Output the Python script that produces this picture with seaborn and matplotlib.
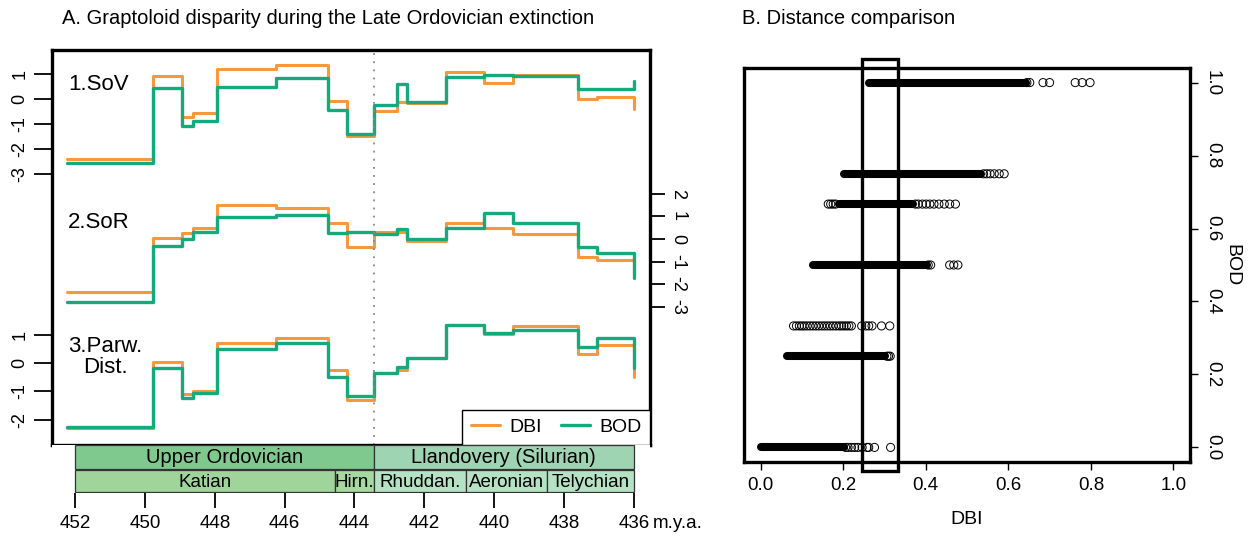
import matplotlib
matplotlib.use("Agg")
import matplotlib.pyplot as plt
import seaborn as sns
from matplotlib.patches import Rectangle
from matplotlib.lines import Line2D

# --- panel A data -------------------------------------------------------
# step positions (m.y.a.), the last one only closes the final step
AGE = [452.24, 449.76, 448.95, 448.62, 447.93, 446.26, 444.75, 444.21, 443.45,
       442.78, 442.51, 441.38, 440.29, 439.46, 437.60, 437.07, 436.0]

SOV_DBI = [-2.41, 0.92, -0.71, -0.55, 1.20, 1.37, -0.07, -1.48, -0.48,
           -0.11, -0.17, 1.09, 0.65, 0.97, 0.00, 0.07, -0.40]
SOV_BOD = [-2.55, 0.45, -1.08, -0.88, 0.49, 0.83, -0.44, -1.41, -0.24,
           0.60, -0.11, 0.89, 0.97, 0.93, 0.39, 0.39, 0.73]
SOR_DBI = [-2.36, 0.06, 0.28, 0.50, 1.50, 1.36, 0.72, -0.34, 0.30,
           0.30, -0.08, 0.69, 0.50, 0.22, -0.78, -0.93, -1.30]
SOR_BOD = [-2.77, -0.30, 0.00, 0.30, 0.96, 1.08, 0.25, 0.30, 0.22,
           0.43, -0.01, 0.50, 1.14, 0.69, -0.34, -0.63, -1.71]
PARW_DBI = [-2.30, 0.03, -1.08, -0.99, 0.70, 0.88, -0.25, -1.29, -0.37,
            -0.25, 0.19, 1.36, 1.01, 1.30, 0.32, 0.62, -0.49]
PARW_BOD = [-2.25, -0.19, -1.23, -1.05, 0.49, 0.70, -0.49, -1.18, -0.35,
            -0.13, 0.19, 1.36, 1.06, 1.15, 0.55, 0.88, -0.17]

SOV_TICKS = [-3, -2, -1, 0, 1]
SOR_TICKS = [2, 1, 0, -1, -2, -3]
PARW_TICKS = [1, 0, -1, -2]

# timescale
SERIES_NAMES = ["Upper Ordovician", "Llandovery (Silurian)"]
SERIES_START = [452.0, 443.45]
SERIES_END = [443.45, 436.0]
STAGE_NAMES = ["Katian", "Hirn.", "Rhuddan.", "Aeronian", "Telychian"]
STAGE_START = [452.0, 444.55, 443.45, 440.8, 438.5]
STAGE_END = [444.55, 443.45, 440.8, 438.5, 436.0]
AGE_TICKS = [452, 450, 448, 446, 444, 442, 440, 438, 436]
BOUNDARY_AGE = 443.45

# --- panel B data -------------------------------------------------------
BAND_BOD = [1.0, 0.75, 0.667, 0.5, 0.25, 0.0]
BAND_LO = [0.262, 0.202, 0.190, 0.128, 0.064, 0.0]
BAND_HI = [0.642, 0.533, 0.370, 0.402, 0.302, 0.202]

ROW_100 = [0.645, 0.652, 0.684, 0.700, 0.762, 0.779, 0.798]
ROW_075 = [0.540, 0.548, 0.556, 0.566, 0.578, 0.590]
ROW_067 = [0.164, 0.170, 0.176, 0.182, 0.375, 0.382, 0.392, 0.401, 0.410,
           0.420, 0.432, 0.445, 0.458, 0.472]
ROW_050 = [0.406, 0.412, 0.458, 0.468, 0.478]
ROW_033 = [0.080, 0.087, 0.094, 0.100, 0.106, 0.113, 0.120, 0.127, 0.134,
           0.141, 0.148, 0.155, 0.162, 0.169, 0.176, 0.183, 0.190, 0.196,
           0.202, 0.208, 0.214, 0.220, 0.245, 0.255, 0.262, 0.270, 0.293, 0.313]
ROW_025 = [0.306, 0.310, 0.314]
ROW_000 = [0.206, 0.212, 0.220, 0.228, 0.236, 0.246, 0.258, 0.262, 0.276, 0.315]

BOX_DBI = (0.245, 0.333)

ORANGE = "#f7983c"
GREEN = "#16a97c"

sns.set_style("white")
plt.rcParams["font.family"] = ["Liberation Sans", "DejaVu Sans"]
plt.rcParams["text.color"] = "black"
plt.rcParams["axes.labelcolor"] = "black"
plt.rcParams["axes.edgecolor"] = "black"
plt.rcParams["xtick.color"] = "black"
plt.rcParams["ytick.color"] = "black"

W, H = 1249, 536
fig = plt.figure(figsize=(W / 100, H / 100), dpi=100)


def px_axes(x0, y0, x1, y1):
    return fig.add_axes([x0 / W, 1 - y1 / H, (x1 - x0) / W, (y1 - y0) / H])


# ---------------- panel A ----------------
XL = (452.66, 435.54)
ax = px_axes(52, 50, 650, 445)
ax.set_xlim(*XL)
ax.set_ylim(445, 50)  # pixel-like vertical units, panels stacked

panels = [
    ("1.SoV", SOV_DBI, SOV_BOD, 99, 25.0),
    ("2.SoR", SOR_DBI, SOR_BOD, 239, 22.6),
    ("3.Parw.\nDist.", PARW_DBI, PARW_BOD, 363, 28.3),
]
for label, dbi, bod, zero, unit in panels:
    sns.lineplot(x=AGE, y=[zero - v * unit for v in dbi], ax=ax, sort=False,
                 estimator=None, drawstyle="steps-post", color=ORANGE, lw=2.2)
    sns.lineplot(x=AGE, y=[zero - v * unit for v in bod], ax=ax, sort=False,
                 estimator=None, drawstyle="steps-post", color=GREEN, lw=2.4)

ax.text(452.2, 84, "1.SoV", fontsize=16, va="center", ha="left")
ax.text(452.2, 223, "2.SoR", fontsize=16, va="center", ha="left")
ax.text(452.2, 357, "3.Parw.\nDist.", fontsize=16, va="center", ha="left",
        multialignment="center", linespacing=1.0)

ax.axvline(BOUNDARY_AGE, color="#888888", lw=1.3, ls=(0, (1, 3.5)))

sov = panels[0]
parw = panels[2]
ax.set_yticks([sov[3] - t * sov[4] for t in SOV_TICKS] +
              [parw[3] - t * parw[4] for t in PARW_TICKS])
ax.set_yticklabels([str(t) for t in SOV_TICKS] + [str(t) for t in PARW_TICKS])
ax.tick_params(axis="y", left=True, length=13, width=1.3, labelsize=13, pad=4)
for t in ax.get_yticklabels():
    t.set_rotation(90)
    t.set_va("center")
ax.set_xticks([])
ax.tick_params(axis="x", bottom=False, top=False)
for s in ax.spines.values():
    s.set_linewidth(2.4)

ax2 = ax.twinx()
ax2.set_ylim(ax.get_ylim())
sor = panels[1]
ax2.set_yticks([sor[3] - t * sor[4] for t in SOR_TICKS])
ax2.set_yticklabels([str(t) for t in SOR_TICKS])
ax2.tick_params(axis="y", right=True, length=11, width=1.3, labelsize=13, pad=3)
ax2.tick_params(axis="x", bottom=False, top=False)
for t in ax2.get_yticklabels():
    t.set_rotation(-90)
    t.set_va("center")
for s in ax2.spines.values():
    s.set_visible(False)

handles = [Line2D([], [], color=ORANGE, lw=2.2), Line2D([], [], color=GREEN, lw=2.4)]
leg = ax.legend(handles, ["DBI", "BOD"], loc="lower right", ncol=2, fontsize=14,
                frameon=True, fancybox=False, edgecolor="black", borderaxespad=0,
                handlelength=1.5, handletextpad=0.45, columnspacing=1.0,
                borderpad=0.45)
leg.get_frame().set_linewidth(1.0)
leg.get_frame().set_alpha(1)

# timescale under panel A
ts = px_axes(52, 445, 650, 493)
ts.set_xlim(*XL)
ts.set_ylim(0, 2)
ts.barh([1.5] * 2, [e - s for s, e in zip(SERIES_START, SERIES_END)],
        left=SERIES_START, height=1, color=["#80c98e", "#9ed4b1"],
        edgecolor="#333333", lw=0.9)
ts.barh([0.5] * 5, [e - s for s, e in zip(STAGE_START, STAGE_END)],
        left=STAGE_START, height=0.92, color=["#9fd59b", "#a6d8a0", "#b5e1c4",
                                               "#b5e1c4", "#b5e1c4"],
        edgecolor="#333333", lw=0.9)
for name, s, e in zip(SERIES_NAMES, SERIES_START, SERIES_END):
    ts.text((s + e) / 2, 1.48, name, ha="center", va="center", fontsize=14.5)
for name, s, e in zip(STAGE_NAMES, STAGE_START, STAGE_END):
    ts.text((s + e) / 2, 0.45, name, ha="center", va="center", fontsize=13.5)
for s in ts.spines.values():
    s.set_visible(False)
ts.set_yticks([])
ts.tick_params(axis="y", left=False, right=False)
ts.set_xticks(AGE_TICKS)
ts.set_xticklabels([str(a) for a in AGE_TICKS])
ts.tick_params(axis="x", bottom=True, length=11, width=1.3, labelsize=13.5, pad=5)
ts.text(435.47, -0.64, "m.y.a.", transform=ts.get_xaxis_transform(),
        ha="left", va="center", fontsize=13.5)

fig.text(62 / W, 1 - 18 / H, "A. Graptoloid disparity during the Late Ordovician extinction",
         fontsize=14.5, ha="left", va="center")

# ---------------- panel B ----------------
bx = px_axes(744, 68, 1190, 462)
bx.set_xlim(-0.04, 1.04)
bx.set_ylim(-0.04, 1.04)

for b, lo, hi in zip(BAND_BOD, BAND_LO, BAND_HI):
    bx.plot([lo, hi], [b, b], color="black", lw=5.8, solid_capstyle="round")

loose_rows = [(1.0, ROW_100), (0.75, ROW_075), (0.667, ROW_067), (0.5, ROW_050),
              (0.333, ROW_033), (0.25, ROW_025), (0.0, ROW_000)]
loose_x = [v for _, row in loose_rows for v in row]
loose_y = [b for b, row in loose_rows for _ in row]
sns.scatterplot(x=loose_x, y=loose_y, ax=bx, s=34, facecolor="none",
                edgecolor="black", linewidth=0.7, marker="o")

bx.add_patch(Rectangle((BOX_DBI[0], -0.066), BOX_DBI[1] - BOX_DBI[0], 1.13,
                       fill=False, lw=2.4, edgecolor="black", clip_on=False,
                       zorder=5))

bx.set_xticks([0, 0.2, 0.4, 0.6, 0.8, 1.0])
bx.set_xticklabels(["0.0", "0.2", "0.4", "0.6", "0.8", "1.0"])
bx.set_yticks([0, 0.2, 0.4, 0.6, 0.8, 1.0])
bx.set_yticklabels(["0.0", "0.2", "0.4", "0.6", "0.8", "1.0"])
bx.yaxis.tick_right()
bx.yaxis.set_label_position("right")
bx.tick_params(axis="x", bottom=True, length=6, width=1.0, labelsize=13.5, pad=5)
bx.tick_params(axis="y", right=True, left=False, length=6, width=1.0,
               labelsize=13.5, pad=4)
for t in bx.get_yticklabels():
    t.set_rotation(-90)
    t.set_va("center")
bx.set_xlabel("DBI", fontsize=14, labelpad=12)
bx.set_ylabel("BOD", fontsize=14, rotation=-90, labelpad=8, va="center")
for s in bx.spines.values():
    s.set_linewidth(2.4)

fig.text(742 / W, 1 - 18 / H, "B. Distance comparison", fontsize=14.5,
         ha="left", va="center")

fig.savefig("out.png", dpi=100)
